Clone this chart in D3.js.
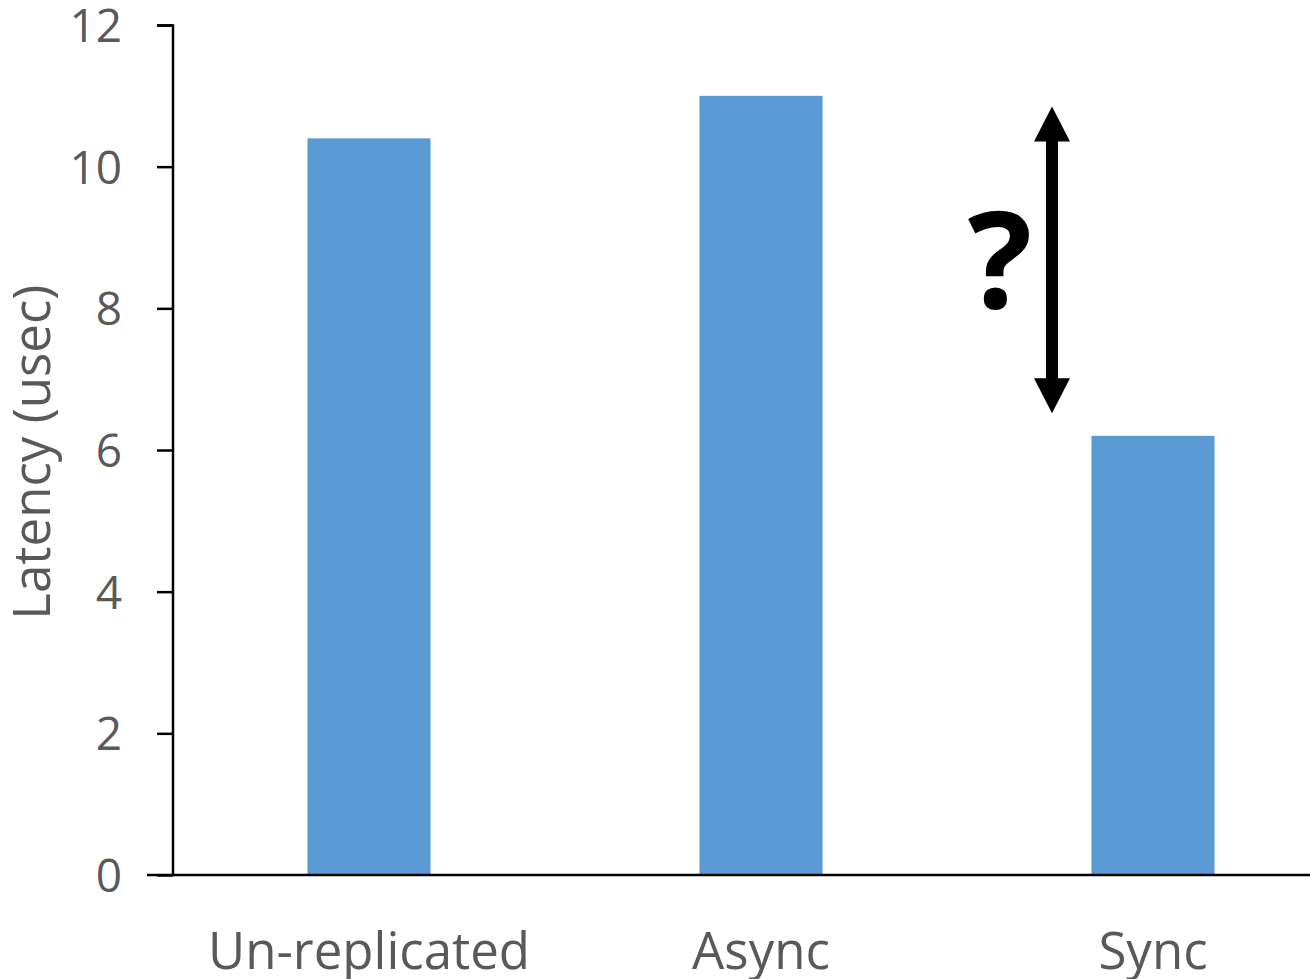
<!DOCTYPE html>
<html><head><meta charset="utf-8">
<script src="https://cdn.jsdelivr.net/npm/d3@7/dist/d3.min.js"></script>
<style>
html,body{margin:0;padding:0;background:#fff;}
svg{display:block;}
</style></head>
<body>
<script>
const categories = ["Un-replicated", "Async", "Sync"];
const latency = [10.4, 11.0, 6.2];
const yTicks = [0, 2, 4, 6, 8, 10, 12];
const yLabel = "Latency (usec)";
const arrowRange = [10.85, 6.52];
const annotationText = "?";

const W = 1310, H = 979;
const svg = d3.select("body").append("svg").attr("width", W).attr("height", H);
const font = "'Open Sans', 'Noto Sans', sans-serif";
const gray = "#595959";

const x = d3.scaleBand().domain(categories).range([173, 1349]).paddingInner(0.686).paddingOuter(0.343);
const y = d3.scaleLinear().domain([0, 12]).range([875, 25]);

// bars
svg.selectAll("rect.bar").data(categories).enter().append("rect")
  .attr("class", "bar")
  .attr("x", d => x(d))
  .attr("width", x.bandwidth())
  .attr("y", (d, i) => y(latency[i]))
  .attr("height", (d, i) => y(0) - y(latency[i]))
  .attr("fill", "#5B9BD5");

// y axis
const yAxis = d3.axisLeft(y).tickValues(yTicks).tickSize(16).tickPadding(35).tickFormat(d3.format("d"));
const gy = svg.append("g").attr("transform", "translate(173,0)").call(yAxis);
gy.select(".domain").attr("stroke", "#000").attr("stroke-width", 2.5).attr("d", "M-16,25.5H0V875");
gy.selectAll(".tick line").attr("stroke", "#000").attr("stroke-width", 2.5);
gy.selectAll(".tick text").attr("fill", gray).style("font-family", font).style("font-size", "46px").attr("dy", "0.36em");

// x axis
const xAxis = d3.axisBottom(x).tickSize(0).tickPadding(58);
const gx = svg.append("g").attr("transform", "translate(0,875)").call(xAxis);
gx.select(".domain").attr("stroke", "#000").attr("stroke-width", 2.5).attr("d", "M147,0H1349");
gx.selectAll(".tick text").attr("fill", gray).style("font-family", font).style("font-size", "51px").attr("dy", "0.71em");

// y label
svg.append("text")
  .attr("transform", `translate(50,${y(5.97)}) rotate(-90)`)
  .attr("text-anchor", "middle")
  .attr("fill", gray)
  .style("font-family", font).style("font-size", "51px")
  .text(yLabel);

// annotation arrow
const ax = x("Sync") + x.bandwidth() / 2 - 101;
const yTop = y(arrowRange[0]), yBot = y(arrowRange[1]);
const headH = 35, headW = 18, shaftW = 6;
svg.append("path")
  .attr("d", `M${ax},${yTop} L${ax + headW},${yTop + headH} L${ax + shaftW},${yTop + headH} L${ax + shaftW},${yBot - headH} L${ax + headW},${yBot - headH} L${ax},${yBot} L${ax - headW},${yBot - headH} L${ax - shaftW},${yBot - headH} L${ax - shaftW},${yTop + headH} L${ax - headW},${yTop + headH} Z`)
  .attr("fill", "#000");

svg.append("text")
  .attr("x", ax - 52)
  .attr("y", y(8.0))
  .attr("text-anchor", "middle")
  .attr("fill", "#000")
  .style("font-family", font).style("font-size", "135px").style("font-weight", "bold")
  .text(annotationText);
</script>
</body></html>
